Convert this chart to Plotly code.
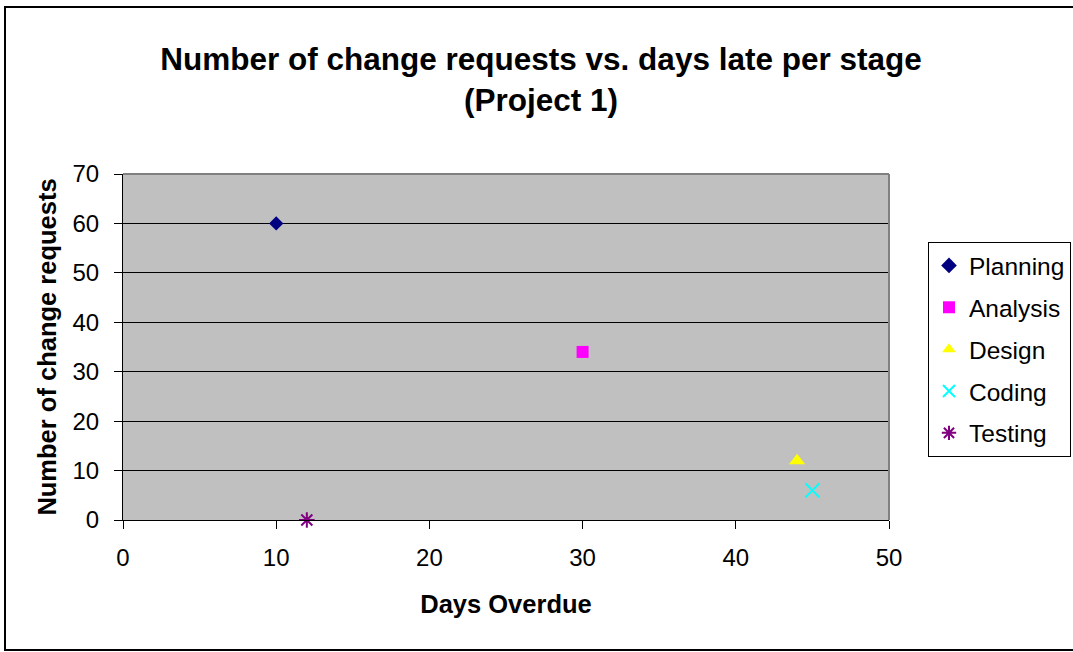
import plotly.graph_objects as go

stages = ["Planning", "Analysis", "Design", "Coding", "Testing"]
days_overdue = [10, 30, 44, 45, 12]
change_requests = [60, 34, 12, 6, 0]
colors = ["#000080", "#FF00FF", "#FFFF00", "#00FFFF", "#800080"]
symbols = ["diamond", "square", "triangle-up", "x-thin-open", "asterisk-open"]
sizes = [11, 12, 14, 14, 13]

x_ticks = [0, 10, 20, 30, 40, 50]
y_ticks = [0, 10, 20, 30, 40, 50, 60, 70]

W, H = 1073, 652
L, R, T, B = 123, 889, 174, 520

fig = go.Figure()
for i, s in enumerate(stages):
    open_sym = symbols[i].endswith("open")
    fig.add_trace(go.Scatter(
        x=[days_overdue[i]], y=[change_requests[i]], mode="markers", name=s,
        legendgroup=s,
        marker=dict(symbol=symbols[i], size=sizes[i], color=colors[i],
                    line=dict(color=colors[i], width=2 if open_sym else 0)),
        cliponaxis=False,
    ))

def px_x(p):
    return (p - L) / (R - L)

def px_y(p):
    return (B - p) / (B - T)

fig.update_layout(
    width=W, height=H,
    margin=dict(l=L, r=W - R, t=T, b=H - B, autoexpand=False),
    paper_bgcolor="white", plot_bgcolor="#C0C0C0",
    font=dict(family="Liberation Sans, Arial", color="black", size=24),
    title=dict(text="<b>Number of change requests vs. days late per stage<br>(Project 1)</b>",
               x=(157 + 925) / 2 / W, xref="container", xanchor="center",
               y=1 - 70 / H, yref="container", yanchor="middle",
               font=dict(size=31.5)),
    xaxis=dict(range=[0, 50], tickvals=x_ticks, showgrid=False, zeroline=False,
               showline=True, linecolor="black", linewidth=1,
               ticks="outside", ticklen=8, tickcolor="black",
               ticklabelstandoff=8,
               title=dict(text="<b>Days Overdue</b>", font=dict(size=25.5), standoff=25)),
    yaxis=dict(range=[0, 70], tickvals=y_ticks, showgrid=True, gridcolor="black",
               gridwidth=1, zeroline=False,
               showline=True, linecolor="black", linewidth=1,
               ticks="outside", ticklen=8, tickcolor="black",
               ticklabelstandoff=10,
               title=dict(text="<b>Number of change requests</b>", font=dict(size=25.5), standoff=8)),
    legend=dict(x=px_x(928), y=px_y(242), xanchor="left", yanchor="top",
                bordercolor="black", borderwidth=1, bgcolor="white",
                font=dict(size=24.5), tracegroupgap=7, itemsizing="constant"),
    shapes=[
        dict(type="line", xref="paper", yref="paper", x0=0, x1=1, y0=1, y1=1,
             line=dict(color="#808080", width=2)),
        dict(type="line", xref="paper", yref="paper", x0=1, x1=1, y0=0, y1=1,
             line=dict(color="#808080", width=2)),
        dict(type="rect", xref="paper", yref="paper",
             x0=px_x(5), x1=px_x(1120), y0=px_y(650), y1=px_y(7),
             line=dict(color="black", width=2), layer="below"),
    ],
)

fig.write_html("out.html", config={"displayModeBar": False},
               post_script="document.body.style.margin='0px';")
